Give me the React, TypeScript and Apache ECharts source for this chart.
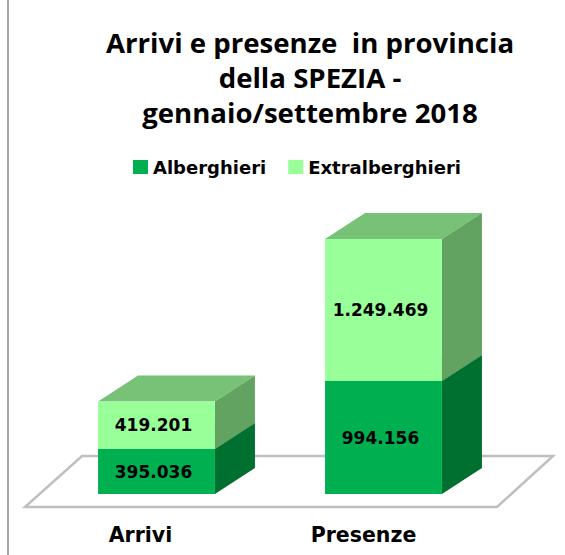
import React, { useEffect, useRef } from "react";
import * as echarts from "echarts";

const categories = ["Arrivi", "Presenze"];
const alberghieri = [395036, 994156];
const extralberghieri = [419201, 1249469];
const seriesNames = ["Alberghieri", "Extralberghieri"];
const titleLines = ["Arrivi e presenze  in provincia", "della SPEZIA -", "gennaio/settembre 2018"];

const FONT = "'Open Sans', sans-serif";
const WIDE = "'DejaVu Sans', sans-serif";
const DX = 40;
const DY = -26;

const fmt = (v: number) => String(v).replace(/\B(?=(\d{3})+(?!\d))/g, ".");

function makeRender(front: string, side: string, top: string) {
  return (params: any, api: any) => {
    const i = api.value(0);
    const start = api.value(1);
    const end = api.value(2);
    const [cx, y0] = api.coord([i, start]);
    const [, y1] = api.coord([i, end]);
    const w = api.size([1, 0])[0] * 0.515;
    const x0 = cx - w / 2;
    const x1 = cx + w / 2;
    return {
      type: "group",
      children: [
        { type: "polygon", shape: { points: [[x0, y1], [x1, y1], [x1 + DX, y1 + DY], [x0 + DX, y1 + DY]] }, style: { fill: top } },
        { type: "polygon", shape: { points: [[x1, y0], [x1 + DX, y0 + DY], [x1 + DX, y1 + DY], [x1, y1]] }, style: { fill: side } },
        { type: "rect", shape: { x: x0, y: y1, width: w, height: y0 - y1 }, style: { fill: front } },
        {
          type: "text",
          x: cx - 3,
          y: (y0 + y1) / 2,
          style: {
            text: fmt(end - start),
            fill: "#000",
            font: `bold 17px ${WIDE}`,
            align: "center",
            verticalAlign: "middle",
          },
        },
      ],
    };
  };
}

export default function App() {
  const ref = useRef<HTMLDivElement>(null);
  useEffect(() => {
    document.body.style.margin = "0";
    const chart = echarts.init(ref.current!, null, { renderer: "svg" });
    chart.setOption({
      animation: false,
      backgroundColor: "#fff",
      title: {
        text: titleLines.join("\n"),
        left: 305,
        top: 19,
        textAlign: "center",
        textStyle: { fontFamily: FONT, fontWeight: "bold", fontSize: 27.6, lineHeight: 35, color: "#000" },
      },
      legend: {
        data: seriesNames,
        left: 128,
        top: 153,
        itemWidth: 15,
        itemHeight: 14,
        itemGap: 22,
        icon: "rect",
        textStyle: { fontFamily: WIDE, fontWeight: "bold", fontSize: 18, color: "#000" },
      },
      grid: [
        { left: 43, width: 454, top: 210, height: 284 },
        { left: 29, width: 446, top: 210, height: 284 },
      ],
      xAxis: [
        { type: "category", data: categories, gridIndex: 0, axisLine: { show: false }, axisTick: { show: false }, axisLabel: { show: false } },
        {
          type: "category",
          data: categories,
          gridIndex: 1,
          axisLine: { show: false },
          axisTick: { show: false },
          axisLabel: { margin: 30, fontFamily: WIDE, fontWeight: "bold", fontSize: 20.5, color: "#000" },
        },
      ],
      yAxis: [
        { type: "value", min: 0, max: 2500000, gridIndex: 0, show: false },
        { type: "value", min: 0, max: 2500000, gridIndex: 1, show: false },
      ],
      graphic: [
        { type: "line", z: 0, shape: { x1: 8, y1: 0, x2: 8, y2: 555 }, style: { stroke: "#a6a6a6", lineWidth: 2 } },
        {
          type: "polygon",
          z: 0,
          shape: { points: [[25, 507], [497, 507], [553, 456], [82, 456]] },
          style: { fill: "#fff", stroke: "#bfbfbf", lineWidth: 2.5 },
        },
      ],
      series: [
        {
          name: seriesNames[0],
          type: "custom",
          xAxisIndex: 0,
          yAxisIndex: 0,
          z: 3,
          itemStyle: { color: "#00B050" },
          renderItem: makeRender("#00B050", "#007030", "#007030"),
          encode: { x: 0, y: [1, 2] },
          data: categories.map((_, i) => [i, 0, alberghieri[i]]),
        },
        {
          name: seriesNames[1],
          type: "custom",
          xAxisIndex: 0,
          yAxisIndex: 0,
          z: 4,
          itemStyle: { color: "#99FF99" },
          renderItem: makeRender("#99FF99", "#62A362", "#77C277"),
          encode: { x: 0, y: [1, 2] },
          data: categories.map((_, i) => [i, alberghieri[i], alberghieri[i] + extralberghieri[i]]),
        },
      ],
    });
    return () => chart.dispose();
  }, []);
  return <div ref={ref} style={{ width: 565, height: 555 }} />;
}
